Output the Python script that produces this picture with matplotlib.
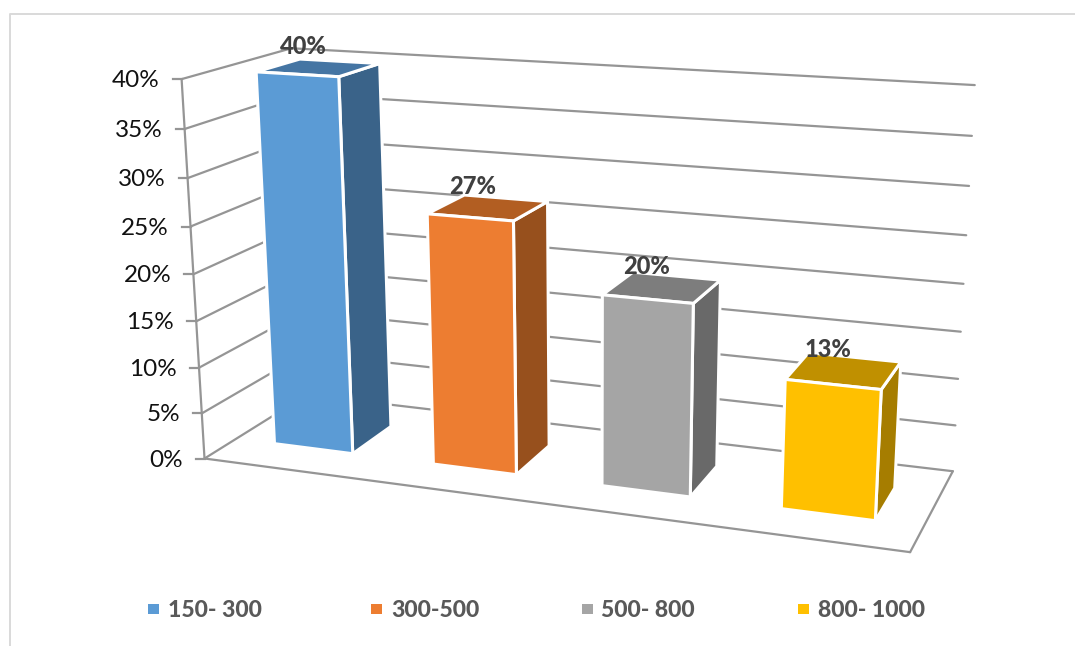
import numpy as np
import matplotlib
matplotlib.use("Agg")
import matplotlib.pyplot as plt
from matplotlib.patches import Polygon, Rectangle

categories = ["150- 300", "300-500", "500- 800", "800- 1000"]
values = [40, 26.7, 20, 13.3]
value_labels = ["40%", "27%", "20%", "13%"]
y_ticks = [0, 5, 10, 15, 20, 25, 30, 35, 40]
y_tick_labels = ["0%", "5%", "10%", "15%", "20%", "25%", "30%", "35%", "40%"]

front_colors = ["#5B9BD5", "#ED7D31", "#A5A5A5", "#FFC000"]
top_colors = ["#4575A3", "#B25E22", "#7D7D7D", "#C09000"]
side_colors = ["#3A6389", "#97501D", "#696969", "#A67D00"]
grid_color = "#959595"
FONT = "Lato"

# Camera: (category, value, depth) -> pixel, fitted on the corners of the chart box
world = np.array([[0, 0, 0], [0, 40, 0], [4, 0, 0], [0, 0, 1],
                  [0, 40, 1], [4, 0, 1], [4, 40, 1]], float)
pixel = np.array([[203.3, 459.3], [183, 78.7], [910, 551.7], [308, 394],
                  [290, 48.7], [952.7, 471.7], [975, 85]], float)
scale_w = np.array([1 / 4, 1 / 40, 1.0])
rows = []
for w, p in zip(world * scale_w, pixel / 1000):
    W = [*w, 1]
    rows.append([*W, 0, 0, 0, 0, *[-p[0] * c for c in W]])
    rows.append([0, 0, 0, 0, *W, *[-p[1] * c for c in W]])
P = np.linalg.svd(np.array(rows))[2][-1].reshape(3, 4)


def proj(x, y, z):
    h = P @ np.array([x * scale_w[0], y * scale_w[1], z * scale_w[2], 1.0])
    return h[0] / h[2] * 1000, h[1] / h[2] * 1000


fig = plt.figure(figsize=(10.75, 6.46), dpi=100)
ax = fig.add_axes([0, 0, 1, 1])
ax.set_xlim(0, 1075)
ax.set_ylim(646, 0)
ax.axis("off")

# outer frame
ax.plot([9.5, 9.5, 1075], [646, 13.5, 13.5], color="#D9D9D9", lw=1.4, zorder=1)


def line(a, b, **kw):
    pa, pb = proj(*a), proj(*b)
    ax.plot([pa[0], pb[0]], [pa[1], pb[1]], color=grid_color, lw=1.6,
            solid_capstyle="round", zorder=2, **kw)


for v, lab in zip(y_ticks, y_tick_labels):
    line((0, v, 0), (0, v, 1))
    line((0, v, 1), (4, v, 1))
    px, py = proj(0, v, 0)
    ax.plot([px - 9, px], [py, py], color=grid_color, lw=1.6, zorder=2)
    ax.text(px - 22, py + 1.5, lab, ha="right", va="center", fontsize=17.5,
            family=FONT, color="#111111")
line((0, 0, 0), (0, 40, 0))
line((0, 0, 0), (4, 0, 0))
line((4, 0, 0), (4, 0, 1))

# bars
margin = 0.25
z0, z1 = 0.29, 0.70
for i, v in enumerate(values):
    x0, x1 = i + margin, i + 1 - margin
    faces = [
        ([(x1, 0, z0), (x1, 0, z1), (x1, v, z1), (x1, v, z0)], side_colors[i]),
        ([(x0, v, z0), (x1, v, z0), (x1, v, z1), (x0, v, z1)], top_colors[i]),
        ([(x0, 0, z0), (x1, 0, z0), (x1, v, z0), (x0, v, z0)], front_colors[i]),
    ]
    for pts, col in faces:
        ax.add_patch(Polygon([proj(*p) for p in pts], closed=True, facecolor=col,
                             edgecolor="white", lw=2.2, joinstyle="miter", zorder=3))
    cx, cy = proj((x0 + x1) / 2, v, (z0 + z1) / 2)
    ax.annotate(value_labels[i], (cx, cy), xytext=(-15.5 * 0.72, 21 * 0.72),
                textcoords="offset points", ha="center", va="center",
                fontsize=17, fontweight=900, family=FONT, color="#404040", zorder=5)

# legend
swatch_x = [148, 371, 582, 798]
text_x = [168, 391, 601, 818]
for name, col, sx, tx in zip(categories, front_colors, swatch_x, text_x):
    ax.add_patch(Rectangle((sx, 603.5), 11, 10.5, facecolor=col, edgecolor="none", zorder=3))
    ax.text(tx, 610.5, name, ha="left", va="center", fontsize=16.6, fontweight=900,
            family=FONT, color="#595959")

fig.savefig("out.png", dpi=100)
